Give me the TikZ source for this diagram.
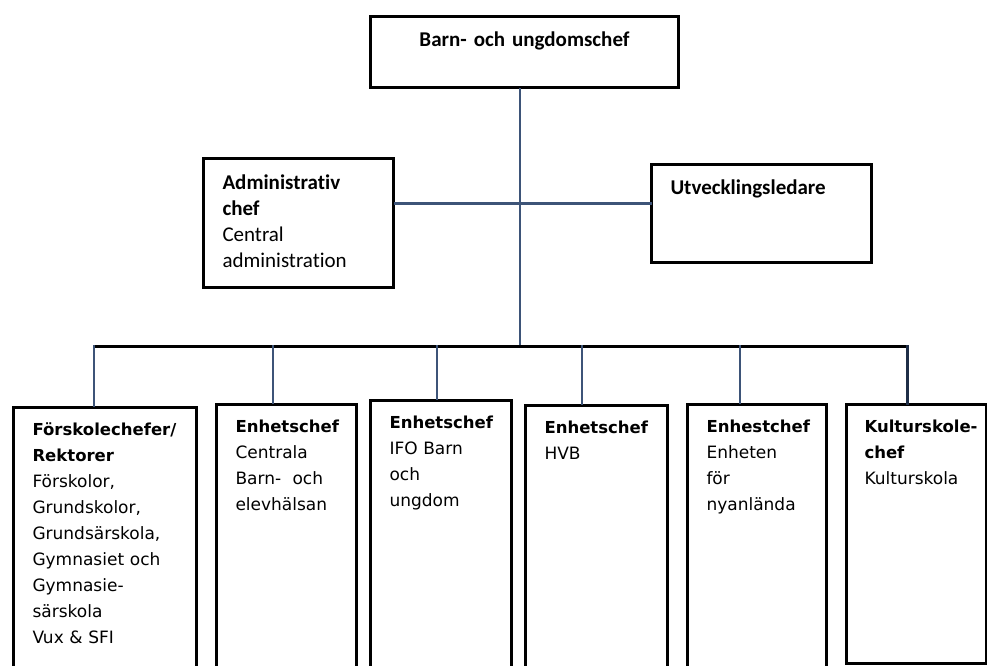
\documentclass[tikz,border=0pt]{standalone}
\usepackage{fontspec}
\setmainfont{DejaVu Sans}
\newfontfamily\carlito[Ligatures=NoCommon]{Carlito}
\usetikzlibrary{positioning,calc}
\definecolor{linkblue}{rgb}{.24,.33,.47}
\definecolor{darknavy}{rgb}{.12,.18,.28}
\newcommand\hd[1]{{\fontsize{16.5}{26}\selectfont\bfseries\mbox{#1}}}

\begin{document}
\begin{tikzpicture}[x=1pt, y=-1pt, line cap=rect]
   \tikzstyle{chefbox}=[rectangle, draw, line width=3pt, anchor=north west, align=left, inner xsep=19pt, inner ysep=0pt, text height=28pt, font=\fontsize{17}{26}\selectfont]
   \tikzstyle{upper}=[chefbox, font=\carlito\fontsize{21}{26}\selectfont]
   \tikzstyle{unitbox}=[chefbox, text width=#1]
   \tikzstyle{link}=[draw=linkblue, line width=2.5pt]
   \tikzstyle{bus}=[draw=black, line width=3pt]

   \useasboundingbox (0,0) rectangle (987,665);

   % ledning
   \node[upper, align=center, text width=270pt, text height=30pt, text depth=41pt] (chef) at (369,15) {\bfseries Barn- och ungdomschef};
   \node[upper, text width=152pt, text height=31pt, text depth=98pt] (admin) at (202,157) {{\bfseries Administrativ}\\ {\bfseries chef}\\ Central\\ administration};
   \node[upper, text width=182pt, text height=30pt, text depth=68pt] (utv) at (650,163) {\bfseries Utvecklingsledare};

   % enheter
   \node[unitbox=145pt, text depth=246pt] (u1) at (12,406) {\hd{Förskolechefer/}\\ \hd{Rektorer}\\ Förskolor,\\ Grundskolor,\\ Grundsärskola,\\ Gymnasiet och\\ Gymnasie-\\ särskola\\ Vux \& SFI};
   \node[unitbox=102pt, text depth=249pt] (u2) at (215,403) {\hd{Enhetschef}\\ Centrala\\ Barn-~ och\\ elevhälsan};
   \node[unitbox=103pt, text depth=253pt] (u3) at (369,399) {\hd{Enhetschef}\\ IFO Barn\\ och\\ ungdom};
   \node[unitbox=104pt, text depth=248pt] (u4) at (524,404) {\hd{Enhetschef}\\ HVB};
   \node[unitbox=101pt, text depth=249pt] (u5) at (686,403) {\hd{Enhestchef}\\ Enheten\\ för\\ nyanlända};
   \node[unitbox=104pt, text depth=231pt, inner xsep=18pt] (u6) at (845,403) {\hd{Kulturskole-}\\ \hd{chef}\\ Kulturskola};

   \coordinate (hub) at (520,346);
   \coordinate (cross) at (520,203);
   \foreach \i/\x in {1/94,2/273,3/437,4/582,5/740,6/907}
      \coordinate (d\i) at (\x,346);

   \path
  (hub |- chef.south)
    edge [link, line width=1.5pt] (hub)
  (cross -| admin.east)
    edge [link, line width=3pt] (cross -| utv.west)
  (d1)
    edge [bus] (d6)
  (d1) edge [link] (d1 |- u1.north)
  (d2) edge [link] (d2 |- u2.north)
  (d3) edge [link] (d3 |- u3.north)
  (d4) edge [link] (d4 |- u4.north)
  (d5) edge [link] (d5 |- u5.north)
  (d6) edge [link, draw=darknavy, line width=3pt] (d6 |- u6.north)
   ;
\end{tikzpicture}
\end{document}
